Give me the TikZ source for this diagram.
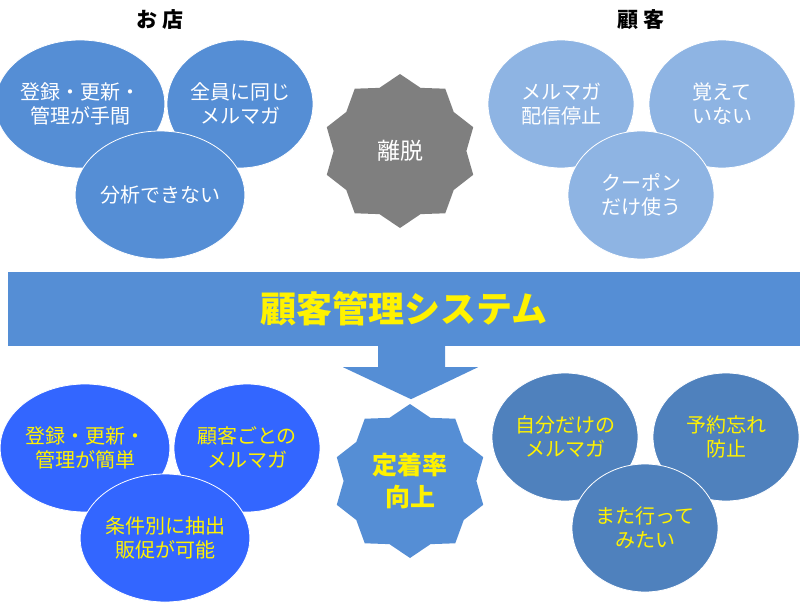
\documentclass[tikz,border=0pt]{standalone}
\usepackage{fontspec}
\setmainfont{Noto Sans CJK JP}
\usepackage{xcolor}
\usepackage{tikz}
\usetikzlibrary{shapes.geometric, positioning, calc}
\definecolor{shopblue}{HTML}{558ED5}
\definecolor{custblue}{HTML}{8EB4E3}
\definecolor{goodblue}{HTML}{3366FF}
\definecolor{steelblue}{HTML}{4F81BD}
\definecolor{churngray}{HTML}{7F7F7F}

\begin{document}
\begin{tikzpicture}[x=1pt, y=-1pt,
    bubble/.style={ellipse, draw=white, line width=0.8pt, minimum width=146pt, minimum height=128pt, inner sep=0pt, align=center, font=\fontsize{20}{24}\selectfont},
    seal/.style={star, star points=10, star point ratio=1.16, minimum size=154pt, inner sep=0pt, align=center},
    heading/.style={font=\fontsize{21}{24}\selectfont\bfseries}]
    \useasboundingbox (0,0) rectangle (800,604);

    % Headings
    \node[heading] (shop) at (160,20) {お 店};
    \node[heading] (cust) at (641,20) {顧 客};

    % Shop side problems
    \node[bubble, fill=shopblue, text=white] (s1) at (80,104) {登録・更新・\\管理が手間};
    \node[bubble, fill=shopblue, text=white] (s2) at (240,104) {全員に同じ\\メルマガ};
    \node[bubble, fill=shopblue, text=white] (s3) at (160,195) {分析できない};

    % Customer side problems
    \node[bubble, fill=custblue, text=white] (c1) at (561,104) {メルマガ\\配信停止};
    \node[bubble, fill=custblue, text=white] (c2) at (722,104) {覚えて\\いない};
    \node[bubble, fill=custblue, text=white] (c3) at (641,195) {クーポン\\だけ使う};

    % Churn seal
    \node[seal, fill=churngray, text=white, font=\fontsize{23}{26}\selectfont] (churn) at (400,151) {離脱};

    % System banner
    \node[rectangle, fill=shopblue, minimum width=792pt, minimum height=74pt, inner sep=0pt,
          text=yellow, font=\fontsize{36}{40}\selectfont\bfseries] (sys) at (404,309) {顧客管理システム};

    % Down arrow from the banner
    \fill[shopblue] ($(sys.south)+(-26,0)$) -- ($(sys.south)+(41,0)$) -- ($(sys.south)+(41,21)$)
      -- ($(sys.south)+(74,21)$) -- ($(sys.south)+(7,53)$) -- ($(sys.south)+(-61,21)$)
      -- ($(sys.south)+(-26,21)$) -- cycle;

    % Retention seal
    \node[seal, fill=shopblue, text=yellow, font=\fontsize{25}{32}\selectfont\bfseries] (goal) at (410,481) {定着率\\向上};

    % Shop side benefits
    \node[bubble, fill=goodblue, text=yellow] (g1) at (85,448) {登録・更新・\\管理が簡単};
    \node[bubble, fill=goodblue, text=yellow] (g2) at (247,448) {顧客ごとの\\メルマガ};
    \node[bubble, fill=goodblue, text=yellow] (g3) at (165,538) {条件別に抽出\\販促が可能};

    % Customer side benefits
    \node[bubble, fill=steelblue, text=yellow] (b1) at (565,437) {自分だけの\\メルマガ};
    \node[bubble, fill=steelblue, text=yellow] (b2) at (726,437) {予約忘れ\\防止};
    \node[bubble, fill=steelblue, text=yellow] (b3) at (645,528) {また行って\\みたい};
\end{tikzpicture}
\end{document}
